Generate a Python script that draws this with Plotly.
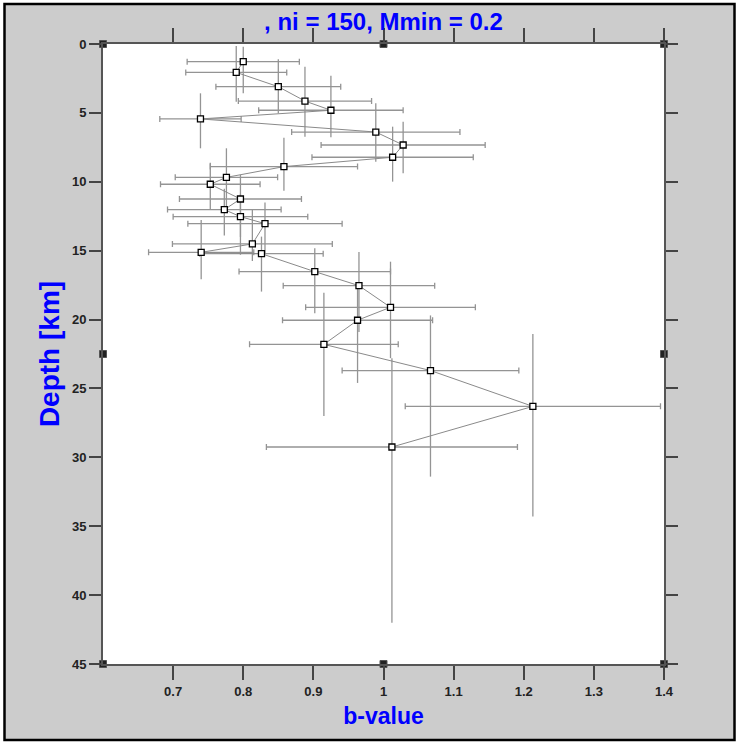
import plotly.graph_objects as go

# ---- data ----
b_value = [0.800, 0.790, 0.850, 0.888, 0.925, 0.739, 0.989, 1.028, 1.013, 0.858,
           0.776, 0.753, 0.796, 0.773, 0.796, 0.831, 0.813, 0.740, 0.826, 0.902,
           0.965, 1.010, 0.963, 0.915, 1.067, 1.213, 1.012]
b_err = [0.080, 0.072, 0.089, 0.095, 0.103, 0.058, 0.120, 0.117, 0.115, 0.105,
         0.073, 0.071, 0.087, 0.081, 0.096, 0.110, 0.114, 0.075, 0.088, 0.108,
         0.108, 0.121, 0.107, 0.106, 0.126, 0.182, 0.179]
depth = [1.28, 2.06, 3.10, 4.14, 4.81, 5.44, 6.39, 7.33, 8.22, 8.90,
         9.68, 10.18, 11.25, 12.02, 12.53, 13.04, 14.51, 15.12, 15.22, 16.52,
         17.54, 19.11, 20.05, 21.80, 23.70, 26.30, 29.25]
depth_min = [0.20, 0.14, 1.11, 1.65, 2.30, 3.58, 4.30, 5.64, 6.00, 6.80,
             7.57, 8.61, 9.50, 10.50, 10.90, 11.50, 12.05, 12.77, 13.98, 14.83,
             15.10, 15.80, 17.40, 18.05, 19.70, 21.05, 22.80]
depth_max = [3.58, 4.19, 5.03, 6.73, 6.77, 7.57, 8.54, 9.38, 9.99, 10.65,
             12.20, 12.00, 14.00, 13.90, 15.30, 15.20, 15.75, 17.07, 17.97, 19.54,
             20.90, 22.80, 24.60, 27.00, 31.40, 34.30, 42.00]

x_range = [0.6, 1.4]
y_range = [45, 0]
x_ticks = [0.7, 0.8, 0.9, 1.0, 1.1, 1.2, 1.3, 1.4]
x_ticklabels = ["0.7", "0.8", "0.9", "1", "1.1", "1.2", "1.3", "1.4"]
y_ticks = [0, 5, 10, 15, 20, 25, 30, 35, 40, 45]

title_text = ", ni = 150, Mmin = 0.2"
x_title = "b-value"
y_title = "Depth [km]"

# ---- figure ----
W, H = 738, 743
ML, MR, MT, MB = 103, 74, 44, 79
PW, PH = W - ML - MR, H - MT - MB

err_col = "#949494"
fig = go.Figure()

fig.add_trace(go.Scatter(
    x=b_value, y=depth, mode="lines+markers",
    line=dict(color="#8a8a8a", width=1),
    marker=dict(symbol="square", size=6, color="white",
                line=dict(color="black", width=1.3)),
    error_x=dict(type="data", array=b_err, symmetric=True,
                 color=err_col, thickness=1.3, width=3),
    error_y=dict(type="data",
                 array=[mx - d for mx, d in zip(depth_max, depth)],
                 arrayminus=[d - mn for mn, d in zip(depth_min, depth)],
                 color=err_col, thickness=1.3, width=0),
    showlegend=False, hoverinfo="x+y",
))

# axis corner/middle decorations
xm = (x_range[0] + x_range[1]) / 2
ym = (y_range[0] + y_range[1]) / 2
fig.add_trace(go.Scatter(
    x=[x_range[0], xm, x_range[1], x_range[0], xm, x_range[1], x_range[0], x_range[1]],
    y=[y_range[1], y_range[1], y_range[1], y_range[0], y_range[0], y_range[0], ym, ym],
    mode="markers", cliponaxis=False,
    marker=dict(symbol="square", size=7, color="#222222",
                line=dict(color="#555555", width=1)),
    showlegend=False, hoverinfo="skip",
))


def px2paper_x(px):
    return (px - ML) / PW


def px2paper_y(py):
    return 1 - (py - MT) / PH


# white edge outside the frame, then the black frame line
fig.add_shape(type="rect", xref="paper", yref="paper",
              x0=px2paper_x(0), x1=px2paper_x(W),
              y0=px2paper_y(H), y1=px2paper_y(0),
              fillcolor="rgba(0,0,0,0)", line=dict(color="white", width=8))
fig.add_shape(type="rect", xref="paper", yref="paper",
              x0=px2paper_x(4.5), x1=px2paper_x(734.5),
              y0=px2paper_y(740), y1=px2paper_y(4),
              fillcolor="rgba(0,0,0,0)", line=dict(color="black", width=2.5))

fam = "Liberation Sans, Arial, sans-serif"
axis_font = dict(family=fam, size=13, color="#222222", weight="bold")

fig.update_layout(
    width=W, height=H,
    margin=dict(l=ML, r=MR, t=MT, b=MB, pad=0),
    paper_bgcolor="#cccccc", plot_bgcolor="white",
    title=dict(text=title_text, x=(ML + PW / 2) / W, xanchor="center",
               y=1 - 22 / H, yanchor="middle",
               font=dict(family=fam, size=24, color="#0000ff", weight="bold")),
    xaxis=dict(range=x_range, tickvals=x_ticks, ticktext=x_ticklabels,
               ticks="outside", ticklen=14, tickwidth=1.5, tickcolor="#444444",
               showline=True, linecolor="#555555", linewidth=2, mirror="ticks",
               showgrid=False, zeroline=False, tickfont=axis_font,
               title=dict(text=x_title, standoff=10,
                          font=dict(family=fam, size=23, color="#0000ff", weight="bold"))),
    yaxis=dict(range=y_range, tickvals=y_ticks,
               ticks="outside", ticklen=12, tickwidth=1.5, tickcolor="#444444",
               showline=True, linecolor="#555555", linewidth=2, mirror="ticks",
               showgrid=False, zeroline=False, tickfont=axis_font,
               title=dict(text=y_title, standoff=4,
                          font=dict(family=fam, size=28, color="#0000ff", weight="bold"))),
)

fig.write_html("out.html", config={"displayModeBar": False},
               post_script="document.body.style.margin='0';document.body.style.overflow='hidden';")
